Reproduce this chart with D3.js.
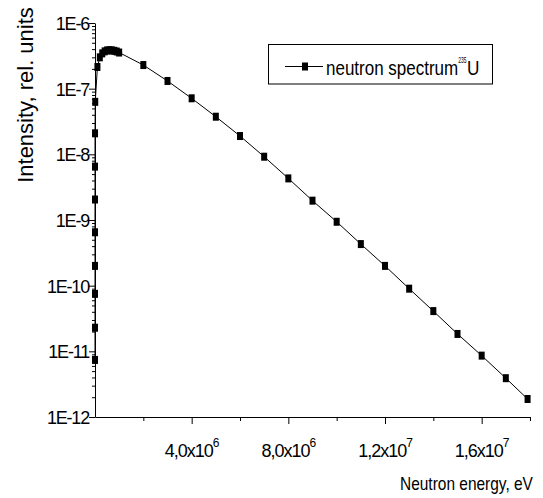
<!DOCTYPE html>
<html>
<head>
<meta charset="utf-8">
<script src="https://cdn.jsdelivr.net/npm/d3@7"></script>
<style>
  body { margin: 0; background: #fff; }
  svg { display: block; font-family: "Liberation Sans", Arial, sans-serif; }
</style>
</head>
<body>
<div id="chart"></div>
<script>
// neutron energy, eV (the first ten sit on the axis at this scale)
var energy = [1e-4, 1e-3, 1e-2, 1e-1, 1, 10, 100, 1e3, 1e4, 1e5,
  2e5, 3e5, 4e5, 5e5, 6e5, 7e5, 8e5, 9e5, 1e6,
  2e6, 3e6, 4e6, 5e6, 6e6, 7e6, 8e6, 9e6, 1e7,
  1.1e7, 1.2e7, 1.3e7, 1.4e7, 1.5e7, 1.6e7, 1.7e7, 1.79e7];

// intensity, rel. units
var intensity = [7.4e-12, 2.29e-11, 7.5e-11, 2.0e-10, 6.5e-10, 2.05e-9, 6.5e-9, 2.09e-8, 6.3e-8, 2.14e-7,
  3.0e-7, 3.45e-7, 3.7e-7, 3.82e-7, 3.85e-7, 3.83e-7, 3.77e-7, 3.68e-7, 3.55e-7,
  2.29e-7, 1.31e-7, 7.13e-8, 3.74e-8, 1.90e-8, 9.2e-9, 4.3e-9, 1.97e-9, 9.4e-10,
  4.3e-10, 2.0e-10, 9.0e-11, 4.1e-11, 1.84e-11, 8.6e-12, 3.9e-12, 1.88e-12];

var yTicks = [1e-12, 1e-11, 1e-10, 1e-9, 1e-8, 1e-7, 1e-6];
var xTicks = [4e6, 8e6, 1.2e7, 1.6e7];
var xTickLabels = [['4,0x10', '6'], ['8,0x10', '6'], ['1,2x10', '7'], ['1,6x10', '7']];
var xMinorTicks = [2e6, 6e6, 1e7, 1.4e7, 1.8e7];
var seriesName = 'neutron spectrum';

var W = 543, H = 498;

var svg = d3.select('#chart').append('svg')
    .attr('width', W)
    .attr('height', H);

var x = d3.scaleLinear().domain([0, 1.8e7]).range([95, 530]);
var y = d3.scaleLog().domain([1e-12, 1e-6]).range([417, 23]);

// minor log ticks 2..9 in each decade
var yMinor = [];
yTicks.slice(0, -1).forEach(function (d) {
    for (var k = 2; k < 10; k++) yMinor.push(d * k);
});

// y axis
svg.append('g')
    .attr('transform', 'translate(95,0)')
    .call(d3.axisLeft(y).tickValues(yMinor).tickSize(3).tickSizeOuter(0).tickFormat(''))
    .call(function (g) { g.select('.domain').remove(); });

var yAxis = svg.append('g')
    .attr('transform', 'translate(95,0)')
    .call(d3.axisLeft(y).tickValues(yTicks).tickSize(6).tickSizeOuter(0)
        .tickFormat(function (d) { return '1E' + Math.round(Math.log10(d)); }));
yAxis.selectAll('text')
    .attr('x', -6)
    .attr('dy', '0.36em')
    .style('font-size', '18px')
    .style('letter-spacing', '-1.2px')
    .attr('fill', '#000');

// x axis
svg.append('g')
    .attr('transform', 'translate(0,417)')
    .call(d3.axisBottom(x).tickValues(xMinorTicks).tickSize(4).tickSizeOuter(0).tickFormat(''))
    .call(function (g) { g.select('.domain').remove(); });

var xAxis = svg.append('g')
    .attr('transform', 'translate(0,417)')
    .call(d3.axisBottom(x).tickValues(xTicks).tickSize(7).tickSizeOuter(0).tickFormat(''));
xAxis.select('.domain').attr('d', 'M' + (x.range()[0] + 0.5) + ',0.5H' + (x.range()[1] + 0.5));

var xl = svg.append('g').selectAll('text')
    .data(xTicks)
    .enter().append('text')
    .attr('x', function (d) { return x(d) + 0.5; })
    .attr('y', 457)
    .attr('text-anchor', 'middle')
    .style('font-size', '18px');
xl.append('tspan')
    .style('letter-spacing', '-1px')
    .text(function (d, i) { return xTickLabels[i][0]; });
xl.append('tspan')
    .attr('dy', -10)
    .style('font-size', '12px')
    .text(function (d, i) { return xTickLabels[i][1]; });

svg.selectAll('.tick line').attr('stroke', '#000');
svg.selectAll('.domain').attr('stroke', '#000');

// axis titles
svg.append('text')
    .attr('transform', 'translate(33,95) rotate(-90)')
    .attr('text-anchor', 'middle')
    .style('font-size', '22px')
    .text('Intensity, rel. units');

// squeezed like the original
svg.append('text')
    .attr('transform', 'translate(400,490) scale(0.86,1)')
    .style('font-size', '18px')
    .text('Neutron energy, eV');

// series
var pts = energy.map(function (e, i) { return [e, intensity[i]]; });

svg.append('path')
    .datum(pts)
    .attr('fill', 'none')
    .attr('stroke', '#000')
    .attr('stroke-width', 1)
    .attr('d', d3.line()
        .x(function (d) { return x(d[0]); })
        .y(function (d) { return y(d[1]); }));

svg.append('g').selectAll('rect')
    .data(pts)
    .enter().append('rect')
    .attr('x', function (d) { return x(d[0]) - 3; })
    .attr('y', function (d) { return y(d[1]) - 4; })
    .attr('width', 6)
    .attr('height', 8)
    .attr('fill', '#000');

// legend
var lg = svg.append('g');
lg.append('rect')
    .attr('x', 268.5).attr('y', 44.5)
    .attr('width', 224).attr('height', 39.5)
    .attr('fill', '#fff')
    .attr('stroke', '#000');
lg.append('line')
    .attr('x1', 285).attr('x2', 323)
    .attr('y1', 66.5).attr('y2', 66.5)
    .attr('stroke', '#000');
lg.append('rect')
    .attr('x', 302).attr('y', 62.5)
    .attr('width', 6).attr('height', 8)
    .attr('fill', '#000');
lg.append('text')
    .attr('transform', 'translate(326,75) scale(0.85,1)')
    .style('font-size', '20px')
    .text(seriesName);
lg.append('text')
    .attr('transform', 'translate(458.3,63) scale(0.55,1)')
    .style('font-size', '9px')
    .text('235');
lg.append('text')
    .attr('transform', 'translate(467,75) scale(0.82,1)')
    .style('font-size', '21px')
    .text('U');
</script>
</body>
</html>
